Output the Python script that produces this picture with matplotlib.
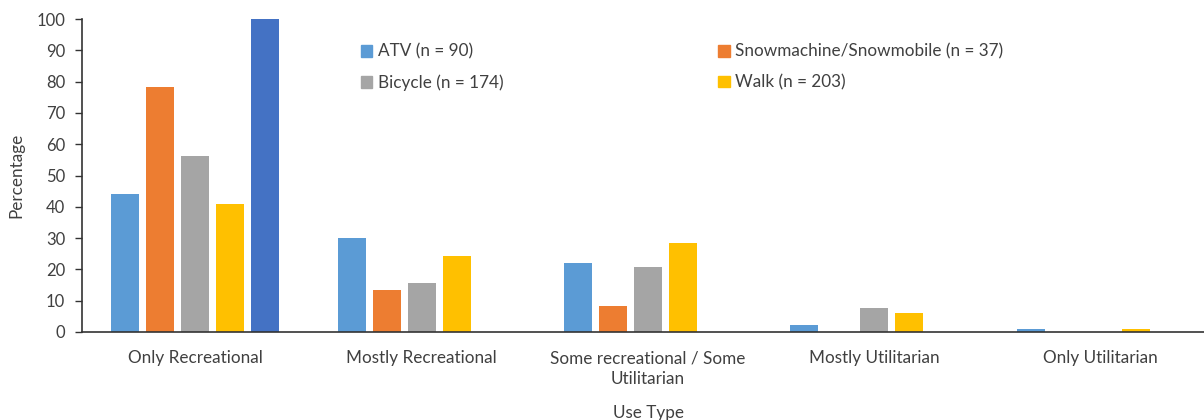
import numpy as np
import matplotlib.pyplot as plt
from matplotlib.patches import Patch

categories = ['Only Recreational', 'Mostly Recreational',
              'Some recreational / Some\nUtilitarian', 'Mostly Utilitarian',
              'Only Utilitarian']
series_names = ['ATV (n = 90)', 'Snowmachine/Snowmobile (n = 37)',
                'Bicycle (n = 174)', 'Walk (n = 203)', '']
atv = [44.1, 30.0, 22.0, 2.2, 1.1]
snow = [78.3, 13.4, 8.3, 0, 0]
bicycle = [56.2, 15.7, 20.8, 7.7, 0]
walk = [40.9, 24.3, 28.4, 6.1, 1.0]
other = [100, 0, 0, 0, 0]
yticks = list(range(0, 101, 10))

colors = ['#5B9BD5', '#ED7D31', '#A5A5A5', '#FFC000', '#4472C4']
text_color = '#404040'

plt.rcParams['font.family'] = ['Lato', 'DejaVu Sans']

fig = plt.figure(figsize=(12.04, 4.2), dpi=100)
# plot area runs a little past the right edge of the picture
ax = fig.add_axes([82 / 1204, 1 - 332 / 420, (1214 - 82) / 1204, (332 - 19) / 420])

x = np.arange(len(categories))
slot = 0.1546
width = 0.124
all_series = [atv, snow, bicycle, walk, other]
for i, vals in enumerate(all_series):
    ax.bar(x + (i - 2) * slot, vals, width, color=colors[i], zorder=2)

ax.set_xlim(-0.5, len(categories) - 0.5)
ax.set_ylim(0, 100)
ax.set_yticks(yticks)
ax.set_xticks(x)
ax.set_xticklabels(categories, fontsize=12.3, color=text_color, linespacing=1.35)
ax.tick_params(axis='x', length=0, pad=13)
ax.tick_params(axis='y', length=5, width=1, color='#333333', labelsize=12,
               labelcolor=text_color, pad=7)
for s in ['top', 'right']:
    ax.spines[s].set_visible(False)
for s in ['left', 'bottom']:
    ax.spines[s].set_color('#333333')
    ax.spines[s].set_linewidth(1.2)

ax.set_ylabel('Percentage', fontsize=12.3, color=text_color, labelpad=9)
ax.set_xlabel('Use Type', fontsize=12.3, color=text_color, labelpad=13)

# legend shows the four named series, row-major order
order = [0, 2, 1, 3]
handles = [Patch(color=colors[i]) for i in order]
labels = [series_names[i] for i in order]
leg = ax.legend(handles, labels, ncol=2, loc='upper left',
                bbox_to_anchor=(264 / 1132, 0.97), frameon=False,
                fontsize=12.3, handlelength=0.65, handleheight=0.65,
                handletextpad=0.3, columnspacing=12.6, labelspacing=0.85)
for t in leg.get_texts():
    t.set_color(text_color)

fig.savefig('out.png', dpi=100)
